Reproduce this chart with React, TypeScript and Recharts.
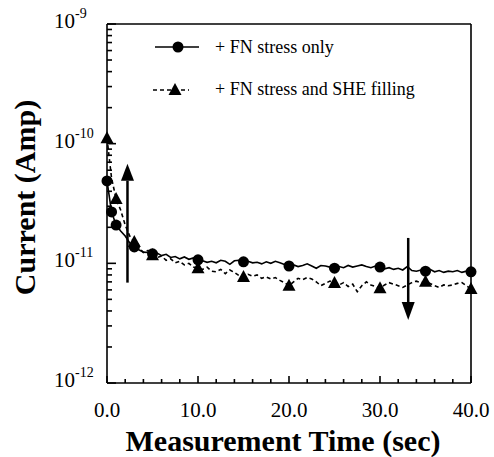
import React from 'react';
import { ComposedChart, Line, XAxis, YAxis, ReferenceLine, ReferenceDot } from 'recharts';

// Measurement time (sec)
const times = [
  0, 0.5, 1, 1.5, 2, 2.5, 3, 3.5, 4, 4.5,
  5, 5.5, 6, 6.5, 7, 7.5, 8, 8.5, 9, 9.5,
  10, 10.5, 11, 11.5, 12, 12.5, 13, 13.5, 14, 14.5,
  15, 15.5, 16, 16.5, 17, 17.5, 18, 18.5, 19, 19.5,
  20, 20.5, 21, 21.5, 22, 22.5, 23, 23.5, 24, 24.5,
  25, 25.5, 26, 26.5, 27, 27.5, 28, 28.5, 29, 29.5,
  30, 30.5, 31, 31.5, 32, 32.5, 33, 33.5, 34, 34.5,
  35, 35.5, 36, 36.5, 37, 37.5, 38, 38.5, 39, 39.5,
  40,
];

// Current in pA (1e-12 A)
const fnStressOnly = [
  48.8, 26.9, 20.9, 18.6, 16.9, 14.8, 13.7, 13.0, 12.4, 12.3,
  12.0, 12.2, 11.6, 11.9, 11.2, 11.4, 10.9, 11.3, 10.8, 11.1,
  10.7, 10.5, 10.2, 10.4, 10.1, 10.6, 10.4, 9.8, 10.5, 10.6,
  10.3, 10.4, 10.1, 10.2, 9.9, 10.3, 10.0, 10.4, 10.1, 9.8,
  9.5, 9.7, 9.4, 9.6, 9.9, 9.5, 9.1, 9.6, 9.5, 9.3,
  9.1, 9.4, 9.2, 9.6, 9.3, 9.5, 9.7, 9.4, 9.2, 9.5,
  9.3, 9.0, 9.2, 8.9, 9.1, 8.8, 9.4, 8.7, 8.6, 8.8,
  8.6, 8.9, 8.5, 8.7, 8.4, 8.6, 8.5, 8.7, 8.4, 8.6,
  8.5,
];

const fnStressShe = [
  111, 51.6, 34.5, 27.9, 20.9, 16.9, 15.1, 13.6, 12.3, 12.8,
  11.7, 11.2, 11.5, 10.6, 10.9, 10.1, 10.4, 9.7, 10.0, 9.3,
  9.1, 8.9, 9.3, 8.6, 8.5, 8.9, 8.2, 8.8, 8.4, 7.9,
  7.7, 8.1, 7.8, 8.0, 7.5, 7.7, 7.4, 7.6, 7.2, 6.9,
  6.5, 7.0, 7.5, 7.3, 7.6, 7.4, 7.0, 6.5, 6.8, 7.1,
  6.85, 6.6, 6.9, 6.4, 6.7, 5.8, 6.5, 7.0, 6.6, 6.4,
  6.2, 6.6, 6.9, 6.7, 6.5, 6.3, 6.6, 6.9, 7.1, 6.9,
  7.0, 6.8, 6.5, 6.3, 6.6, 6.5, 6.6, 6.8, 6.9, 6.5,
  6.1,
];

const solidMarkerTimes = [0, 0.5, 1, 3, 5, 10, 15, 20, 25, 30, 35, 40];
const dashedMarkerTimes = [0, 1, 3, 5, 10, 15, 20, 25, 30, 35, 40];

const seriesNames = ['+ FN stress only', '+ FN stress and SHE filling'];

const xTicks = [0, 2, 4, 6, 8, 10, 12, 14, 16, 18, 20, 22, 24, 26, 28, 30, 32, 34, 36, 38, 40];
const xMajorTicks = [0, 10, 20, 30, 40];
const xTickLabels = ['0.0', '10.0', '20.0', '30.0', '40.0'];

const yMajorTicks = [1e-12, 1e-11, 1e-10, 1e-9];
const yDecades = [-12, -11, -10];
const yMinorMultipliers = [1, 2, 3, 4, 5, 6, 7, 8, 9];

// Arrow annotations (time, start pA, arrowhead-base pA)
const arrowUp = { t: 2.25, from: 6.9, to: 49 };
const arrowDown = { t: 33.1, from: 16.3, to: 4.75 };

const PA = 1e-12;
const data = times.map((t, i) => ({ t, a: fnStressOnly[i] * PA, b: fnStressShe[i] * PA }));

const yTicks: number[] = [];
yDecades.forEach((e) => yMinorMultipliers.forEach((m) => yTicks.push(Number((m * Math.pow(10, e)).toPrecision(3)))));
yTicks.push(1e-9);

const FONT = '"Liberation Serif", "Times New Roman", serif';
const Y_DOMAIN: [number, number] = [1e-12, 1e-9];
const X_DOMAIN: [number, number] = [0, 40];
const AXIS_STROKE = { stroke: '#000', strokeWidth: 1.6 };

const isMajorY = (v: number) => {
  const lg = Math.log10(v);
  return Math.abs(lg - Math.round(lg)) < 1e-6;
};

const renderYLabel = (props: any) => {
  const x = Number(props.x);
  const y = Number(props.y);
  const exp = Math.round(Math.log10(props.payload.value));
  return (
    <text key={`yl${exp}`} x={x - 53} y={y + 4} fontFamily={FONT} fontSize={21} fill="#000" textAnchor="start">
      <tspan>10</tspan>
      <tspan dy={-10} fontSize={14}>{String(exp)}</tspan>
    </text>
  );
};

const renderXLabel = (props: any) => {
  const x = Number(props.x);
  const y = Number(props.y);
  const idx = xMajorTicks.indexOf(props.payload.value);
  return (
    <text key={`xl${idx}`} x={x} y={y + 34} fontFamily={FONT} fontSize={21} fill="#000" textAnchor="middle">
      {xTickLabels[idx]}
    </text>
  );
};

// inward tick marks drawn at axis positions
const yTickShape = (len: number) => (p: any) => (
  <path d={`M${p.cx},${p.cy}H${p.cx + len}`} stroke="#000" strokeWidth={1.6} fill="none" />
);
const xTickShape = (len: number) => (p: any) => (
  <path d={`M${p.cx},${p.cy}V${p.cy - len}`} stroke="#000" strokeWidth={1.6} fill="none" />
);

const makeDot = (markers: number[], kind: 'circle' | 'triangle') => (props: any) => {
  const { cx, cy, payload, index } = props;
  if (!markers.includes(payload.t) || cx == null || cy == null) return <g key={`d${kind}${index}`} />;
  if (kind === 'circle') return <circle key={`d${kind}${index}`} cx={cx} cy={cy} r={5.5} fill="#000" />;
  return (
    <path
      key={`d${kind}${index}`}
      d={`M${cx},${cy - 7}L${cx + 6.5},${cy + 5}L${cx - 6.5},${cy + 5}Z`}
      fill="#000"
    />
  );
};

const ArrowHead = (dir: 'up' | 'down') => (props: any) => {
  const { cx, cy } = props;
  const h = dir === 'up' ? -17 : 18;
  return <path d={`M${cx},${cy + h}L${cx + 6.5},${cy}L${cx - 6.5},${cy}Z`} fill="#000" />;
};

const LegendBox = () => (
  <svg width={320} height={80} style={{ overflow: 'visible', display: 'block' }}>
    <line x1={10} x2={54} y1={19} y2={19} stroke="#000" strokeWidth={1.6} />
    <circle cx={33} cy={19} r={5.5} fill="#000" />
    <text x={70} y={25} fontFamily={FONT} fontSize={18} fill="#000">{seriesNames[0]}</text>
    <line x1={8} x2={44} y1={62} y2={62} stroke="#000" strokeWidth={1.6} strokeDasharray="4 3" />
    <path d="M30,55L36.5,67L23.5,67Z" fill="#000" />
    <text x={70} y={67} fontFamily={FONT} fontSize={18} fill="#000">{seriesNames[1]}</text>
  </svg>
);

export default function App() {
  return (
    <div style={{ position: 'absolute', left: 0, top: 0, width: 494, height: 457, background: '#fff' }}>
      <ComposedChart
        width={494}
        height={457}
        data={data}
        margin={{ top: 24, right: 23, bottom: 0, left: 0 }}
      >
        <XAxis
          dataKey="t"
          type="number"
          domain={X_DOMAIN}
          ticks={xMajorTicks}
          interval={0}
          height={74}
          tickSize={0}
          tickMargin={0}
          tick={renderXLabel}
          tickLine={false}
          axisLine={AXIS_STROKE}
          label={(p: any) => {
            const vb = p.viewBox;
            return (
              <text
                x={vb.x + vb.width / 2 - 6}
                y={vb.y + 68}
                textAnchor="middle"
                fontFamily={FONT}
                fontWeight="bold"
                fontSize={30}
                fill="#000"
              >
                Measurement Time (sec)
              </text>
            );
          }}
        />
        <YAxis
          scale="log"
          type="number"
          domain={Y_DOMAIN}
          allowDataOverflow
          ticks={yMajorTicks}
          interval={0}
          width={107}
          tickSize={0}
          tickMargin={0}
          tick={renderYLabel}
          tickLine={false}
          axisLine={AXIS_STROKE}
          label={(p: any) => {
            const vb = p.viewBox;
            const cx = vb.x + 24;
            const cy = vb.y + vb.height / 2 - 6;
            return (
              <text
                x={cx}
                y={cy}
                transform={`rotate(-90 ${cx} ${cy})`}
                textAnchor="middle"
                dominantBaseline="central"
                fontFamily={FONT}
                fontWeight="bold"
                fontSize={30}
                fill="#000"
              >
                Current (Amp)
              </text>
            );
          }}
        />
        {/* top and right frame */}
        <ReferenceLine
          segment={[{ x: X_DOMAIN[0], y: Y_DOMAIN[1] }, { x: X_DOMAIN[1], y: Y_DOMAIN[1] }]}
          ifOverflow="visible"
          stroke="#000"
          strokeWidth={1.6}
        />
        <ReferenceLine
          segment={[{ x: X_DOMAIN[1], y: Y_DOMAIN[0] }, { x: X_DOMAIN[1], y: Y_DOMAIN[1] }]}
          ifOverflow="visible"
          stroke="#000"
          strokeWidth={1.6}
        />
        {yTicks.map((v) => (
          <ReferenceDot
            key={`ytick${v}`}
            x={X_DOMAIN[0]}
            y={v}
            ifOverflow="visible"
            shape={yTickShape(isMajorY(v) ? 9 : 5)}
          />
        ))}
        {xTicks.map((t) => (
          <ReferenceDot
            key={`xtick${t}`}
            x={t}
            y={Y_DOMAIN[0]}
            ifOverflow="visible"
            shape={xTickShape(xMajorTicks.includes(t) ? 7 : 4)}
          />
        ))}
        <ReferenceLine
          segment={[{ x: arrowUp.t, y: arrowUp.from * PA }, { x: arrowUp.t, y: arrowUp.to * PA }]}
          stroke="#000"
          strokeWidth={2.5}
        />
        <ReferenceDot x={arrowUp.t} y={arrowUp.to * PA} shape={ArrowHead('up')} />
        <ReferenceLine
          segment={[{ x: arrowDown.t, y: arrowDown.from * PA }, { x: arrowDown.t, y: arrowDown.to * PA }]}
          stroke="#000"
          strokeWidth={2.5}
        />
        <ReferenceDot x={arrowDown.t} y={arrowDown.to * PA} shape={ArrowHead('down')} />
        <Line
          type="linear"
          dataKey="b"
          name={seriesNames[1]}
          stroke="#000"
          strokeWidth={1.6}
          strokeDasharray="4 3"
          dot={makeDot(dashedMarkerTimes, 'triangle')}
          activeDot={false}
          isAnimationActive={false}
        />
        <Line
          type="linear"
          dataKey="a"
          name={seriesNames[0]}
          stroke="#000"
          strokeWidth={1.6}
          dot={makeDot(solidMarkerTimes, 'circle')}
          activeDot={false}
          isAnimationActive={false}
        />
      </ComposedChart>
      <div style={{ position: 'absolute', left: 145, top: 28, width: 320, height: 80 }}>
        <LegendBox />
      </div>
    </div>
  );
}
